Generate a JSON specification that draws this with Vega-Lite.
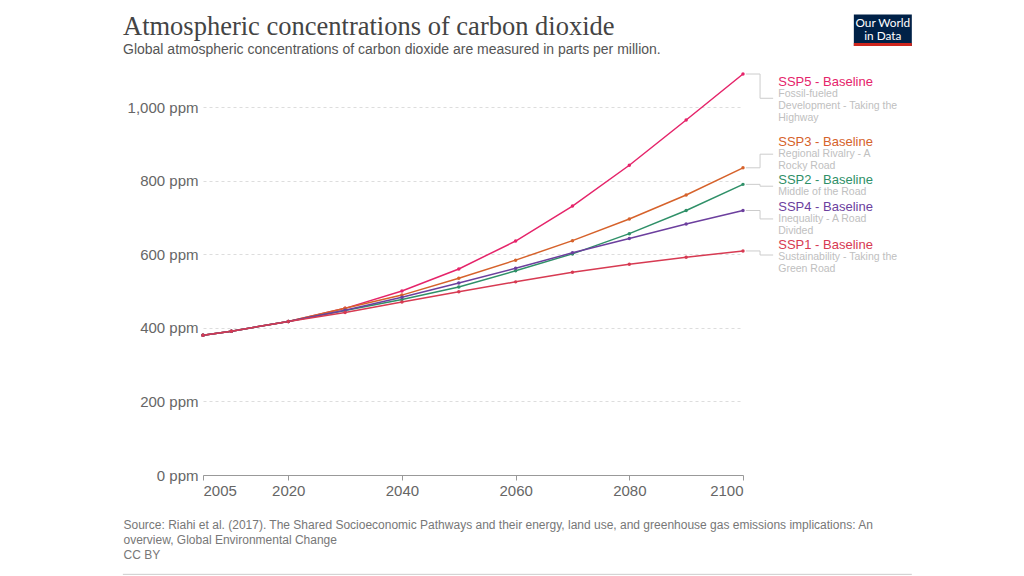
{
  "$schema": "https://vega.github.io/schema/vega-lite/v6.json",
  "width": 540,
  "height": 401,
  "autosize": {"type": "none"},
  "padding": {"left": 203, "top": 74, "right": 281, "bottom": 101},
  "background": "white",
  "config": {"view": {"stroke": null}, "font": "Liberation Sans"},
  "title": {
    "text": "Atmospheric concentrations of carbon dioxide",
    "subtitle": "Global atmospheric concentrations of carbon dioxide are measured in parts per million.",
    "anchor": "start",
    "frame": "group",
    "dx": -80,
    "dy": 59,
    "offset": 16,
    "font": "Liberation Serif",
    "fontSize": 26.5,
    "fontWeight": "normal",
    "color": "#444444",
    "subtitleFont": "Liberation Sans",
    "subtitleFontSize": 14,
    "subtitleColor": "#555555",
    "subtitlePadding": 3
  },
  "datasets": {
    "series": [
      {"series": "SSP5", "year": 2005, "ppm": 380}, {"series": "SSP5", "year": 2010, "ppm": 391}, {"series": "SSP5", "year": 2020, "ppm": 417}, {"series": "SSP5", "year": 2030, "ppm": 453}, {"series": "SSP5", "year": 2040, "ppm": 500}, {"series": "SSP5", "year": 2050, "ppm": 560}, {"series": "SSP5", "year": 2060, "ppm": 636}, {"series": "SSP5", "year": 2070, "ppm": 731}, {"series": "SSP5", "year": 2080, "ppm": 842}, {"series": "SSP5", "year": 2090, "ppm": 965}, {"series": "SSP5", "year": 2100, "ppm": 1090},
      {"series": "SSP3", "year": 2005, "ppm": 380}, {"series": "SSP3", "year": 2010, "ppm": 391}, {"series": "SSP3", "year": 2020, "ppm": 417}, {"series": "SSP3", "year": 2030, "ppm": 453}, {"series": "SSP3", "year": 2040, "ppm": 489}, {"series": "SSP3", "year": 2050, "ppm": 535}, {"series": "SSP3", "year": 2060, "ppm": 584}, {"series": "SSP3", "year": 2070, "ppm": 637}, {"series": "SSP3", "year": 2080, "ppm": 696}, {"series": "SSP3", "year": 2090, "ppm": 761}, {"series": "SSP3", "year": 2100, "ppm": 835},
      {"series": "SSP2", "year": 2005, "ppm": 380}, {"series": "SSP2", "year": 2010, "ppm": 391}, {"series": "SSP2", "year": 2020, "ppm": 417}, {"series": "SSP2", "year": 2030, "ppm": 447}, {"series": "SSP2", "year": 2040, "ppm": 477}, {"series": "SSP2", "year": 2050, "ppm": 511}, {"series": "SSP2", "year": 2060, "ppm": 555}, {"series": "SSP2", "year": 2070, "ppm": 601}, {"series": "SSP2", "year": 2080, "ppm": 656}, {"series": "SSP2", "year": 2090, "ppm": 719}, {"series": "SSP2", "year": 2100, "ppm": 790},
      {"series": "SSP4", "year": 2005, "ppm": 380}, {"series": "SSP4", "year": 2010, "ppm": 391}, {"series": "SSP4", "year": 2020, "ppm": 417}, {"series": "SSP4", "year": 2030, "ppm": 448}, {"series": "SSP4", "year": 2040, "ppm": 483}, {"series": "SSP4", "year": 2050, "ppm": 522}, {"series": "SSP4", "year": 2060, "ppm": 562}, {"series": "SSP4", "year": 2070, "ppm": 604}, {"series": "SSP4", "year": 2080, "ppm": 643}, {"series": "SSP4", "year": 2090, "ppm": 682}, {"series": "SSP4", "year": 2100, "ppm": 719},
      {"series": "SSP1", "year": 2005, "ppm": 380}, {"series": "SSP1", "year": 2010, "ppm": 391}, {"series": "SSP1", "year": 2020, "ppm": 417}, {"series": "SSP1", "year": 2030, "ppm": 442}, {"series": "SSP1", "year": 2040, "ppm": 470}, {"series": "SSP1", "year": 2050, "ppm": 498}, {"series": "SSP1", "year": 2060, "ppm": 525}, {"series": "SSP1", "year": 2070, "ppm": 551}, {"series": "SSP1", "year": 2080, "ppm": 573}, {"series": "SSP1", "year": 2090, "ppm": 592}, {"series": "SSP1", "year": 2100, "ppm": 609}
    ],
    "labels": [
      {"series": "SSP5", "title": "SSP5 - Baseline", "sub": "Fossil-fueled\nDevelopment - Taking the\nHighway", "end": 1090, "labelPpm": 1069, "conn": 1024},
      {"series": "SSP3", "title": "SSP3 - Baseline", "sub": "Regional Rivalry - A\nRocky Road", "end": 835, "labelPpm": 904, "conn": 872},
      {"series": "SSP2", "title": "SSP2 - Baseline", "sub": "Middle of the Road", "end": 790, "labelPpm": 802, "conn": 785},
      {"series": "SSP4", "title": "SSP4 - Baseline", "sub": "Inequality - A Road\nDivided", "end": 719, "labelPpm": 729, "conn": 696},
      {"series": "SSP1", "title": "SSP1 - Baseline", "sub": "Sustainability - Taking the\nGreen Road", "end": 609, "labelPpm": 625, "conn": 598}
    ]
  },
  "layer": [
    {
      "data": {"name": "series"},
      "mark": {"type": "line", "strokeWidth": 1.5, "point": {"filled": true, "size": 12}},
      "encoding": {
        "x": {
          "field": "year", "type": "quantitative",
          "scale": {"domain": [2005, 2100], "nice": false, "zero": false},
          "axis": {
            "values": [2005, 2020, 2040, 2060, 2080, 2100],
            "format": "d",
            "grid": false,
            "domainColor": "#999999",
            "tickColor": "#999999",
            "tickSize": 5,
            "labelColor": "#666666",
            "labelFontSize": 15,
            "labelPadding": 3,
            "title": [
              "Source: Riahi et al. (2017). The Shared Socioeconomic Pathways and their energy, land use, and greenhouse gas emissions implications: An",
              "overview, Global Environmental Change",
              "CC BY"
            ],
            "titleX": -80,
            "titleY": 44,
            "titleAlign": "left",
            "titleAnchor": "start",
            "titleBaseline": "top",
            "titleFontSize": 12,
            "titleFontWeight": "normal",
            "titleColor": "#777777",
            "titleLineHeight": 15
          }
        },
        "y": {
          "field": "ppm", "type": "quantitative",
          "scale": {"domain": [0, 1090], "nice": false},
          "axis": {
            "values": [0, 200, 400, 600, 800, 1000],
            "labelExpr": "format(datum.value, ',') + ' ppm'",
            "grid": true,
            "gridDash": [3, 3],
            "gridColor": "#dddddd",
            "domain": false,
            "ticks": false,
            "labelColor": "#666666",
            "labelFontSize": 15,
            "labelPadding": 5,
            "title": null
          }
        },
        "color": {
          "field": "series", "type": "nominal",
          "scale": {"domain": ["SSP5", "SSP3", "SSP2", "SSP4", "SSP1"], "range": ["#e5246a", "#d6622b", "#2f9068", "#6c3f9e", "#d73a52"]},
          "legend": null
        }
      }
    },
    {
      "data": {"name": "labels"},
      "mark": {"type": "rule", "color": "#cccccc", "strokeWidth": 1},
      "encoding": {"x": {"datum": 2100.5}, "x2": {"datum": 2103}, "y": {"field": "end", "type": "quantitative"}}
    },
    {
      "data": {"name": "labels"},
      "mark": {"type": "rule", "color": "#cccccc", "strokeWidth": 1},
      "encoding": {"x": {"datum": 2103}, "y": {"field": "end", "type": "quantitative"}, "y2": {"field": "conn"}}
    },
    {
      "data": {"name": "labels"},
      "mark": {"type": "rule", "color": "#cccccc", "strokeWidth": 1},
      "encoding": {"x": {"datum": 2103}, "x2": {"datum": 2105.3}, "y": {"field": "conn", "type": "quantitative"}}
    },
    {
      "data": {"name": "labels"},
      "mark": {"type": "text", "align": "left", "baseline": "middle", "fontSize": 13},
      "encoding": {
        "x": {"datum": 2106.2},
        "y": {"field": "labelPpm", "type": "quantitative"},
        "text": {"field": "title"},
        "color": {"field": "series", "type": "nominal", "legend": null}
      }
    },
    {
      "data": {"name": "labels"},
      "mark": {"type": "text", "align": "left", "baseline": "top", "fontSize": 10.5, "lineHeight": 12, "lineBreak": "\n", "dy": 7, "color": "#c0c0c0"},
      "encoding": {
        "x": {"datum": 2106.2},
        "y": {"field": "labelPpm", "type": "quantitative"},
        "text": {"field": "sub"}
      }
    },
    {
      "data": {"values": [{}]},
      "mark": {"type": "rect", "color": "#002147"},
      "encoding": {"x": {"datum": 2119.5}, "x2": {"datum": 2129.7}, "y": {"datum": 1252}, "y2": {"datum": 1166}}
    },
    {
      "data": {"values": [{}]},
      "mark": {"type": "rect", "color": "#ce261e"},
      "encoding": {"x": {"datum": 2119.5}, "x2": {"datum": 2129.7}, "y": {"datum": 1174}, "y2": {"datum": 1166}}
    },
    {
      "data": {"values": [{"t": "Our World", "v": 1228}, {"t": "in Data", "v": 1192}]},
      "mark": {"type": "text", "color": "white", "font": "Lato", "fontSize": 11.8, "fontWeight": "normal", "align": "center", "baseline": "middle"},
      "encoding": {"x": {"datum": 2124.6}, "y": {"field": "v", "type": "quantitative"}, "text": {"field": "t"}}
    },
    {
      "data": {"values": [{}]},
      "mark": {"type": "rule", "color": "#cccccc", "strokeWidth": 1},
      "encoding": {"x": {"datum": 1990.9}, "x2": {"datum": 2129.7}, "y": {"datum": -270}}
    }
  ]
}
